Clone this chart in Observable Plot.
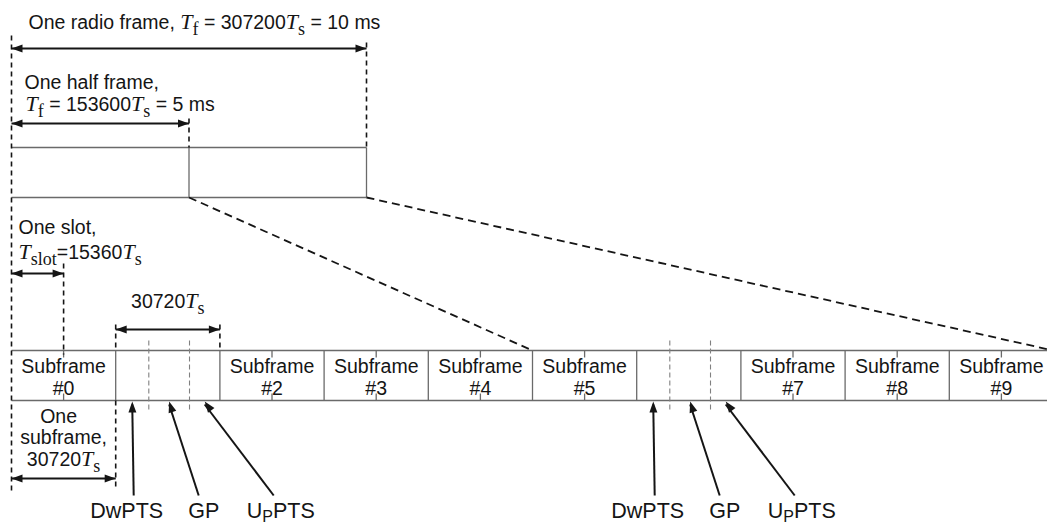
<!DOCTYPE html>
<html>
<head>
<meta charset="utf-8">
<style>
  body { margin: 0; background: #fff; }
  #chart svg { display: block; }
</style>
<script src="https://cdn.jsdelivr.net/npm/d3@7"></script>
<script src="https://cdn.jsdelivr.net/npm/@observablehq/plot@0.6"></script>
</head>
<body>
<div id="chart"></div>
<script>
// ---------------- data ----------------
const frameTs = 307200;       // one radio frame
const halfFrameTs = 153600;   // one half frame
const subframeTs = 30720;     // one subframe
const slotTs = 15360;         // one slot
const subframeIds = [0, 1, 2, 3, 4, 5, 6, 7, 8, 9];
const specialSubframeIds = [1, 6];
const specialFieldNames = ["DwPTS", "GP", "UpPTS"];
const specialFieldLabels = ["DwPTS", "GP", "U{_P}PTS"];
const specialFieldTs = [9760, 12000, 8960];
const frameLabel = ["One radio frame, {T|f} = 307200{T|s} = 10 ms"];
const halfFrameLabel = ["One half frame,", "{T|f} = 153600{T|s} = 5 ms"];
const slotLabel = ["One slot,", "{T|slot}=15360{T|s}"];
const specialSpanLabel = ["30720{T|s}"];
const subframeLabel = ["One", "subframe,", "30720{T|s}"];

// ---------------- layout ----------------
const W = 1047, H = 523;
const X0 = 11;                       // pixel of time 0
const pxPerTs = 1042 / frameTs;      // lower row scale
const topFactor = 355 / 1042;        // upper frame drawn compressed
const toTs = px => px / pxPerTs;
const upX = t => t * topFactor;
const SANS = "Liberation Sans, Arial, Helvetica, sans-serif";
const SERIF = "Liberation Serif, Times New Roman, serif";
const INK = "#151515";
const GRAY = "#6a6a6a";

const rowTop = 350, rowBot = 400;
const frameTop = 147, frameBot = 197;

// cumulative field boundaries inside a special subframe
const fieldStart = specialFieldTs.map((d, i) => d3.sum(specialFieldTs.slice(0, i)));

// ----- gray solid lines (structure) -----
const solid = [
  {x1: 0, x2: upX(frameTs), y1: frameTop, y2: frameTop},
  {x1: 0, x2: upX(frameTs), y1: frameBot, y2: frameBot},
  {x1: upX(halfFrameTs), x2: upX(halfFrameTs), y1: frameTop, y2: frameBot},
  {x1: upX(frameTs), x2: upX(frameTs), y1: frameTop, y2: frameBot},
  {x1: 0, x2: subframeIds.length * subframeTs, y1: rowTop, y2: rowTop},
  {x1: 0, x2: subframeIds.length * subframeTs, y1: rowBot, y2: rowBot}
];
subframeIds.forEach(k => {
  const xb = (k + 1) * subframeTs;
  solid.push({x1: xb, x2: xb, y1: rowTop, y2: rowBot});
  if (specialSubframeIds.includes(k)) return;
  const xm = k * subframeTs + slotTs;
  solid.push({x1: xm, x2: xm, y1: rowTop, y2: rowTop + 7});
  solid.push({x1: xm, x2: xm, y1: rowBot - 7, y2: rowBot});
});

// ----- gray dashed lines inside special subframes -----
const innerDash = [];
specialSubframeIds.forEach(s => {
  fieldStart.slice(1).forEach(f => {
    const xb = s * subframeTs + f;
    innerDash.push({x1: xb, x2: xb, y1: 340, y2: 410});
  });
});

// ----- black dashed guides -----
const guides = [
  {x1: 0, x2: 0, y1: 35, y2: 492},
  {x1: upX(frameTs), x2: upX(frameTs), y1: 42, y2: frameTop},
  {x1: upX(halfFrameTs), x2: upX(halfFrameTs), y1: 118, y2: frameTop},
  {x1: slotTs, x2: slotTs, y1: 263, y2: rowTop + 4},
  {x1: subframeTs, x2: subframeTs, y1: 324, y2: rowTop},
  {x1: 2 * subframeTs, x2: 2 * subframeTs, y1: 324, y2: rowTop},
  {x1: subframeTs, x2: subframeTs, y1: rowBot, y2: 486}
];

// ----- zoom projection lines -----
const zoomLines = [
  {x1: upX(halfFrameTs), y1: frameBot, x2: 5 * subframeTs, y2: rowTop},
  {x1: upX(frameTs), y1: frameBot, x2: 10 * subframeTs, y2: rowTop}
];

// ----- dimension arrows (double headed) -----
const dims = [
  {x1: 0, x2: upX(frameTs), y: 48},
  {x1: 0, x2: upX(halfFrameTs), y: 123},
  {x1: 0, x2: slotTs, y: 273},
  {x1: subframeTs, x2: 2 * subframeTs, y: 329},
  {x1: 0, x2: subframeTs, y: 478}
];
const shafts = dims.map(d => ({x1: d.x1, x2: d.x2, y1: d.y, y2: d.y}));
const heads = [];
dims.forEach(d => {
  heads.push({x: d.x1, y: d.y, rotate: -90});
  heads.push({x: d.x2, y: d.y, rotate: 90});
});

// ----- pointer arrows to DwPTS / GP / UpPTS -----
const tailPx = [18, 83, 158];
const labelPx = [11, 88, 131];
const labelAnchor = ["middle", "middle", "start"];
const headY = 401, tailY = 495, labelY = 517;
const pointerLabels = [];
specialSubframeIds.forEach(s => {
  specialFieldNames.forEach((name, i) => {
    const hx = s * subframeTs + fieldStart[i] + specialFieldTs[i] / 2;
    const tx = s * subframeTs + toTs(tailPx[i]);
    shafts.push({x1: tx, y1: tailY, x2: hx, y2: headY + 3});
    const ang = Math.atan2((hx - tx) * pxPerTs, tailY - headY) * 180 / Math.PI;
    heads.push({x: hx, y: headY, rotate: ang});
    pointerLabels.push({x: s * subframeTs + toTs(labelPx[i]), y: labelY, text: specialFieldLabels[i], anchor: labelAnchor[i]});
  });
});

// ----- texts -----
const textsStart = [
  {x: toTs(17), y: 28, text: frameLabel[0]},
  {x: toTs(13), y: 88, text: halfFrameLabel[0]},
  {x: toTs(14), y: 110, text: halfFrameLabel[1]},
  {x: toTs(7), y: 233, text: slotLabel[0]},
  {x: toTs(7), y: 258, text: slotLabel[1]}
];
const textsMiddle = [
  {x: 1.5 * subframeTs, y: 307, text: specialSpanLabel[0]},
  {x: 0.5 * subframeTs - toTs(5), y: 422, text: subframeLabel[0]},
  {x: 0.5 * subframeTs, y: 443, text: subframeLabel[1]},
  {x: 0.5 * subframeTs, y: 465, text: subframeLabel[2]}
];
subframeIds.filter(k => !specialSubframeIds.includes(k)).forEach(k => {
  textsMiddle.push({x: (k + 0.5) * subframeTs, y: 372, text: "Subframe"});
  textsMiddle.push({x: (k + 0.5) * subframeTs, y: 394, text: "#" + k});
});

const headShape = {
  draw(ctx) {
    ctx.moveTo(0, 0);
    ctx.lineTo(-4, 11);
    ctx.lineTo(4, 11);
    ctx.closePath();
  }
};

const chart = Plot.plot({
  width: W,
  height: H,
  margin: 0,
  style: {fontFamily: SANS, fontSize: "19.5px", background: "#fff", color: INK},
  x: {domain: [-toTs(X0), toTs(W - X0)], axis: null},
  y: {domain: [0, H], range: [0, H], axis: null},
  marks: [
    Plot.link(solid, {x1: "x1", x2: "x2", y1: "y1", y2: "y2", stroke: GRAY, strokeWidth: 1.3}),
    Plot.link(innerDash, {x1: "x1", x2: "x2", y1: "y1", y2: "y2", stroke: "#808080", strokeWidth: 1.1, strokeDasharray: "5,3"}),
    Plot.link(guides, {x1: "x1", x2: "x2", y1: "y1", y2: "y2", stroke: INK, strokeWidth: 1.6, strokeDasharray: "5,4"}),
    Plot.link(zoomLines, {x1: "x1", x2: "x2", y1: "y1", y2: "y2", stroke: INK, strokeWidth: 1.8, strokeDasharray: "8,5"}),
    Plot.link(shafts, {x1: "x1", x2: "x2", y1: "y1", y2: "y2", stroke: INK, strokeWidth: 2}),
    Plot.vector(heads, {x: "x", y: "y", rotate: "rotate", length: 11, anchor: "start", shape: headShape, fill: INK, stroke: "none"}),
    Plot.text(textsStart, {x: "x", y: "y", text: "text", textAnchor: "start", lineAnchor: "bottom", fontSize: 19.5, fill: INK}),
    Plot.text(textsMiddle, {x: "x", y: "y", text: "text", textAnchor: "middle", lineAnchor: "bottom", fontSize: 19.5, fill: INK}),
    Plot.text(pointerLabels.filter(d => d.anchor === "middle"), {x: "x", y: "y", text: "text", textAnchor: "middle", lineAnchor: "bottom", fontSize: 21.5, fill: INK}),
    Plot.text(pointerLabels.filter(d => d.anchor === "start"), {x: "x", y: "y", text: "text", textAnchor: "start", lineAnchor: "bottom", fontSize: 21.5, fill: INK})
  ]
});

// rich text: {T|f} = italic serif T with serif subscript; {_P} = sans subscript
const NS = "http://www.w3.org/2000/svg";
function richify(el) {
  const s = el.textContent;
  if (!s.includes("{")) return;
  while (el.firstChild) el.removeChild(el.firstChild);
  let shift = 0;
  const add = (str, attrs) => {
    const t = document.createElementNS(NS, "tspan");
    t.textContent = str;
    for (const k in attrs) t.setAttribute(k, attrs[k]);
    el.appendChild(t);
  };
  for (const p of s.split(/(\{[^}]*\})/)) {
    if (!p) continue;
    if (p.startsWith("{")) {
      const inner = p.slice(1, -1);
      if (inner.startsWith("_")) {
        add(inner.slice(1), {"font-size": 16, dy: 4 - shift});
        shift = 4;
      } else {
        const [base, sub] = inner.split("|");
        add(base, {"font-family": SERIF, "font-style": "italic", "font-size": 22, dy: -shift});
        add(sub, {"font-family": SERIF, "font-size": 18, dy: 6});
        shift = 6;
      }
    } else {
      add(p, {dy: -shift});
      shift = 0;
    }
  }
}
d3.select(chart).selectAll("text").each(function () { richify(this); });

document.getElementById("chart").appendChild(chart);
</script>
</body>
</html>
